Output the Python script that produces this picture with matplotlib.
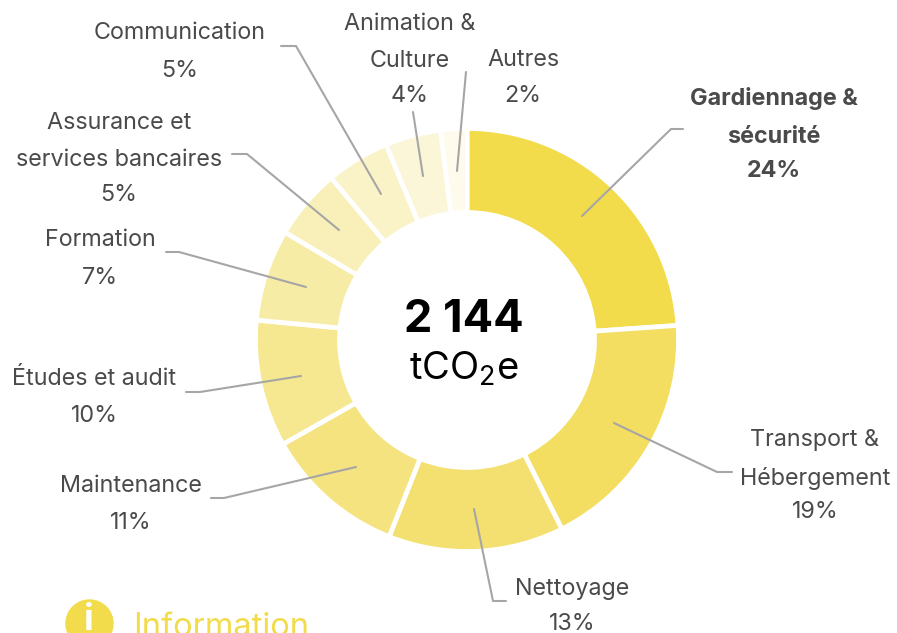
import matplotlib
matplotlib.use("Agg")
import matplotlib.pyplot as plt
from matplotlib.patches import Circle

W, H = 897, 633
categories = [["Gardiennage &", "sécurité"], ["Transport &", "Hébergement"], ["Nettoyage"], ["Maintenance"],
              ["Études et audit"], ["Formation"], ["Assurance et", "services bancaires"], ["Communication"],
              ["Animation &", "Culture"], ["Autres"]]
values = [23.9, 18.7, 13.4, 10.8, 9.7, 7.0, 5.4, 4.85, 4.25, 2.0]
pct_labels = ["24%", "19%", "13%", "11%", "10%", "7%", "5%", "5%", "4%", "2%"]
colors = ["#F2DC4C", "#F3DE62", "#F4E070", "#F5E37F", "#F6E890", "#F6ECA5", "#F8F0B8", "#FAF3C8", "#FCF6D8", "#FEFBEC"]
# layout
label_x = [774, 815, 572, 131, 94, 100, 119, 180, 410, 523]
label_y = [(99, 137, 171), (440, 478, 512), (589, 624), (486, 523), (379, 416), (240, 278),
           (123, 160, 195), (33, 71), (24, 61, 96), (60, 96)]
leaders = [((582,216),(671,129),(683,129)), ((614,423),(717,472),(732,472)), ((474,509),(493,601),(506,601)),
           ((356,467),(224,498),(211,498)), ((301,376),(200,392),(186,392)), ((306,287),(179,252),(166,252)),
           ((339,230),(247,154),(232,154)), ((381,194),(296,46),(281,46)), ((423,176),(413,112),(413,112)),
           ((457,171),(466,72),(466,72))]

plt.rcParams["font.family"] = ["Inter", "DejaVu Sans"]
plt.rcParams["mathtext.fontset"] = "custom"
plt.rcParams["mathtext.rm"] = "Inter"
fig = plt.figure(figsize=(W/100, H/100), dpi=100)
R = 211.5
ax = fig.add_axes([(467-R)/W, 1-(340+R)/H, 2*R/W, 2*R/H])
ax.pie(values, colors=colors, startangle=90, counterclock=False, radius=1,
       wedgeprops=dict(width=84/R, edgecolor="white", linewidth=3.4))
ax.set_xlim(-1, 1); ax.set_ylim(-1, 1)
ax.set_aspect("equal")
ov = fig.add_axes([0, 0, 1, 1], zorder=2); ov.set_xlim(0, W); ov.set_ylim(H, 0); ov.axis("off")
ink = "#4A4A4A"
for i, (c, p, x, ys, l) in enumerate(zip(categories, pct_labels, label_x, label_y, leaders)):
    ov.plot(*zip(*l), color="#A6A6A6", lw=1.5, solid_capstyle="round")
    for line, y in zip(c + [p], ys):
        ov.text(x, y, line, ha="center", va="center", fontsize=16.8, color=ink,
                fontweight="bold" if i == 0 else "normal")
ov.text(464, 320, "2 144", ha="center", va="center", fontsize=32.5, fontweight="bold", color="black")
ov.text(464, 369, r"tCO$_{\mathrm{2}}$e", ha="center", va="center", fontsize=27.5, color="black")
ov.add_patch(Circle((89.5, 623.5), 23.5, color="#F2DC4C"))
ov.text(88.5, 621, "i", ha="center", va="center", fontsize=26, color="white", fontweight="bold")
ov.text(133, 628, "Information", ha="left", va="center", fontsize=23.5, color="#F2DC4C")
fig.savefig("out.png", dpi=100)
